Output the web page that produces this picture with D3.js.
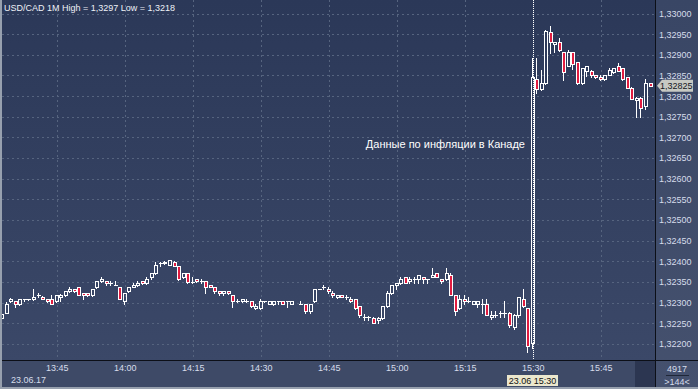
<!DOCTYPE html>
<html lang="ru">
<head>
<meta charset="UTF-8">
<title>USD/CAD 1M</title>
<style>
  html, body { margin: 0; padding: 0; background: #3e4a67; }
  svg { display: block; font-family: "Liberation Sans", Arial, sans-serif; }
</style>
</head>
<body>
<svg id="svg" width="698" height="389"></svg>
<script src="https://d3js.org/d3.v7.min.js"></script>
<script>
// USD/CAD, 1 minute candles, 23.06.17 from 13:33 (14:38 has no candle)
const startTime = new Date(2017, 5, 23, 13, 33)
const open = [
  1.32263, 1.32276, 1.32303, 1.32303, 1.32296, 1.32308, 1.32308, 1.32308, 1.32318, 1.32313,
  1.32308, 1.32308, 1.32303, 1.32313, 1.32318, 1.32328, 1.32333, 1.32337, 1.32323, 1.32323,
  1.32318, 1.32337, 1.32352, 1.32352, 1.32347, 1.32342, 1.32337, 1.32303, 1.32328, 1.32337,
  1.32342, 1.32352, 1.32347, 1.32362, 1.32371, 1.32395, 1.32395, 1.32392, 1.32399, 1.32389,
  1.32362, 1.32371, 1.32351, 1.32357, 1.32352, 1.32352, 1.32342, 1.32337, 1.32328, 1.32323,
  1.32328, 1.32318, 1.32303, 1.32303, 1.32303, 1.32303, 1.32286, 1.32286, 1.32303, 1.32296,
  1.32296, 1.32303, 1.32303, 1.32303, 1.32296, null, 1.32296, 1.32296, 1.32281, 1.32303,
  1.32333, 1.32337, 1.32333, 1.32323, 1.32313, 1.32318, 1.32313, 1.32308, 1.32308, 1.32291,
  1.32266, 1.32266, 1.32262, 1.32257, 1.32262, 1.32291, 1.32323, 1.32342, 1.32347, 1.32362,
  1.32352, 1.32357, 1.32357, 1.32362, 1.32357, 1.32362, 1.32371, 1.32357, 1.32357, 1.32366,
  1.32318, 1.32286, 1.32308, 1.32303, 1.32296, 1.32296, 1.32296, 1.32296, 1.32266, 1.32271,
  1.32276, 1.32276, 1.32276, 1.32242, 1.32271, 1.32308, 1.32286, 1.32203, 1.32841, 1.32817,
  1.32831, 1.32956, 1.32925, 1.32930, 1.32906, 1.32874, 1.32906, 1.32882, 1.32831, 1.32862,
  1.32862, 1.32851, 1.32846, 1.32841, 1.32851, 1.32858, 1.32873, 1.32867, 1.32846, 1.32820,
  1.32791, 1.32796, 1.32776, 1.32831
]
const high = [
  1.32275, 1.32302, 1.32312, 1.32305, 1.32309, 1.32309, 1.32309, 1.32333, 1.32324, 1.32315,
  1.32309, 1.32319, 1.32319, 1.32320, 1.32328, 1.32337, 1.32334, 1.32338, 1.32324, 1.32324,
  1.32333, 1.32352, 1.32362, 1.32353, 1.32352, 1.32352, 1.32338, 1.32323, 1.32338, 1.32347,
  1.32352, 1.32353, 1.32362, 1.32371, 1.32399, 1.32399, 1.32400, 1.32404, 1.32400, 1.32390,
  1.32372, 1.32372, 1.32362, 1.32358, 1.32357, 1.32353, 1.32343, 1.32338, 1.32329, 1.32328,
  1.32329, 1.32319, 1.32308, 1.32309, 1.32308, 1.32304, 1.32296, 1.32308, 1.32304, 1.32303,
  1.32303, 1.32303, 1.32304, 1.32303, 1.32303, null, 1.32303, 1.32297, 1.32296, 1.32333,
  1.32333, 1.32342, 1.32337, 1.32328, 1.32319, 1.32319, 1.32318, 1.32313, 1.32309, 1.32292,
  1.32273, 1.32267, 1.32266, 1.32266, 1.32291, 1.32328, 1.32343, 1.32348, 1.32362, 1.32363,
  1.32362, 1.32362, 1.32367, 1.32363, 1.32358, 1.32384, 1.32372, 1.32358, 1.32384, 1.32372,
  1.32319, 1.32318, 1.32318, 1.32313, 1.32303, 1.32303, 1.32308, 1.32308, 1.32281, 1.32281,
  1.32281, 1.32303, 1.32277, 1.32272, 1.32314, 1.32333, 1.32287, 1.32892, 1.32892, 1.32863,
  1.32959, 1.32970, 1.32931, 1.32940, 1.32907, 1.32912, 1.32907, 1.32883, 1.32868, 1.32873,
  1.32863, 1.32852, 1.32851, 1.32852, 1.32867, 1.32868, 1.32880, 1.32868, 1.32847, 1.32821,
  1.32797, 1.32797, 1.32841, 1.32832
]
const low = [
  1.32260, 1.32274, 1.32301, 1.32290, 1.32295, 1.32303, 1.32307, 1.32306, 1.32313, 1.32308,
  1.32302, 1.32296, 1.32301, 1.32303, 1.32317, 1.32327, 1.32327, 1.32318, 1.32308, 1.32317,
  1.32317, 1.32336, 1.32351, 1.32342, 1.32342, 1.32342, 1.32308, 1.32296, 1.32327, 1.32337,
  1.32341, 1.32346, 1.32346, 1.32357, 1.32370, 1.32389, 1.32394, 1.32391, 1.32389, 1.32356,
  1.32360, 1.32347, 1.32347, 1.32351, 1.32347, 1.32323, 1.32337, 1.32323, 1.32318, 1.32318,
  1.32322, 1.32290, 1.32302, 1.32302, 1.32302, 1.32290, 1.32285, 1.32285, 1.32302, 1.32296,
  1.32295, 1.32296, 1.32296, 1.32290, 1.32296, null, 1.32296, 1.32276, 1.32276, 1.32302,
  1.32332, 1.32333, 1.32323, 1.32313, 1.32312, 1.32313, 1.32308, 1.32302, 1.32285, 1.32266,
  1.32257, 1.32257, 1.32251, 1.32252, 1.32261, 1.32290, 1.32322, 1.32333, 1.32346, 1.32347,
  1.32347, 1.32347, 1.32347, 1.32347, 1.32347, 1.32361, 1.32361, 1.32347, 1.32356, 1.32318,
  1.32271, 1.32285, 1.32296, 1.32302, 1.32296, 1.32290, 1.32276, 1.32271, 1.32261, 1.32266,
  1.32266, 1.32266, 1.32242, 1.32237, 1.32266, 1.32290, 1.32180, 1.32190, 1.32807, 1.32815,
  1.32830, 1.32905, 1.32907, 1.32910, 1.32839, 1.32872, 1.32865, 1.32830, 1.32830, 1.32849,
  1.32847, 1.32845, 1.32840, 1.32840, 1.32850, 1.32857, 1.32861, 1.32840, 1.32820, 1.32792,
  1.32750, 1.32750, 1.32770, 1.32824
]
const close = [
  1.32273, 1.32296, 1.32308, 1.32296, 1.32308, 1.32308, 1.32308, 1.32313, 1.32318, 1.32308,
  1.32303, 1.32296, 1.32319, 1.32319, 1.32328, 1.32333, 1.32328, 1.32318, 1.32318, 1.32318,
  1.32333, 1.32352, 1.32357, 1.32347, 1.32347, 1.32342, 1.32308, 1.32323, 1.32337, 1.32342,
  1.32347, 1.32347, 1.32357, 1.32371, 1.32392, 1.32395, 1.32399, 1.32403, 1.32389, 1.32357,
  1.32371, 1.32350, 1.32351, 1.32352, 1.32352, 1.32337, 1.32337, 1.32328, 1.32323, 1.32328,
  1.32323, 1.32303, 1.32303, 1.32308, 1.32303, 1.32291, 1.32291, 1.32303, 1.32303, 1.32303,
  1.32303, 1.32303, 1.32296, 1.32303, 1.32303, null, 1.32296, 1.32281, 1.32296, 1.32333,
  1.32333, 1.32337, 1.32328, 1.32318, 1.32318, 1.32313, 1.32313, 1.32303, 1.32286, 1.32271,
  1.32266, 1.32266, 1.32252, 1.32262, 1.32291, 1.32323, 1.32342, 1.32347, 1.32357, 1.32347,
  1.32357, 1.32357, 1.32366, 1.32357, 1.32357, 1.32366, 1.32362, 1.32352, 1.32371, 1.32318,
  1.32281, 1.32308, 1.32303, 1.32303, 1.32303, 1.32303, 1.32296, 1.32271, 1.32271, 1.32271,
  1.32276, 1.32276, 1.32247, 1.32271, 1.32313, 1.32291, 1.32195, 1.32846, 1.32817, 1.32831,
  1.32958, 1.32930, 1.32930, 1.32912, 1.32859, 1.32906, 1.32877, 1.32831, 1.32867, 1.32873,
  1.32851, 1.32846, 1.32841, 1.32851, 1.32863, 1.32867, 1.32862, 1.32841, 1.32820, 1.32792,
  1.32796, 1.32771, 1.32831, 1.32825
]
const priceTicks = [1.3220, 1.3225, 1.3230, 1.3235, 1.3240, 1.3245, 1.3250, 1.3255, 1.3260,
  1.3265, 1.3270, 1.3275, 1.3280, 1.3285, 1.3290, 1.3295, 1.3300]
const title = 'USD/CAD 1M High = 1,3297 Low = 1,3218'
const note = 'Данные по инфляции в Канаде'
const eventTime = new Date(2017, 5, 23, 15, 30)
const lastPrice = 1.32825
const dateLabel = '23.06.17'
const cursorLabel = '23.06 15:30'
const volumeLabel = '4917'
const barsLabel = '>144<'

const candles = open.map((o, i) => o == null ? null : {
  t: d3.timeMinute.offset(startTime, i), o, h: high[i], l: low[i], c: close[i]
}).filter(d => d)

// layout
const W = 698, H = 389
const plotRight = 655, plotBottom = 360
const font = '"Liberation Sans", Arial, sans-serif'

const x = d3.scaleTime()
  .domain([startTime, d3.timeMinute.offset(startTime, 143)])
  .range([2.3, 650.5])
const y = d3.scaleLinear()
  .domain([1.3220, 1.3300])
  .range([344, 13.5])

const svg = d3.select('#svg')
const defs = svg.append('defs')
const g1 = defs.append('linearGradient').attr('id', 'plotBg').attr('x1', 0).attr('y1', 0).attr('x2', 0).attr('y2', 1)
g1.append('stop').attr('offset', 0).attr('stop-color', '#2b3858')
g1.append('stop').attr('offset', 1).attr('stop-color', '#3b4868')
const g2 = defs.append('linearGradient').attr('id', 'axisBg').attr('x1', 0).attr('y1', 0).attr('x2', 0).attr('y2', 1)
g2.append('stop').attr('offset', 0).attr('stop-color', '#394665')
g2.append('stop').attr('offset', 1).attr('stop-color', '#45516e')

// backgrounds
svg.append('rect').attr('x', 0).attr('y', 0).attr('width', W).attr('height', H).attr('fill', '#3e4a67')
svg.append('rect').attr('x', plotRight).attr('y', 0).attr('width', W - plotRight).attr('height', H).attr('fill', 'url(#axisBg)')
svg.append('rect').attr('x', 2).attr('y', 0).attr('width', plotRight - 2).attr('height', plotBottom).attr('fill', 'url(#plotBg)')
svg.append('rect').attr('x', 635).attr('y', plotBottom).attr('width', plotRight - 635).attr('height', H - plotBottom).attr('fill', '#2c3651')

// grid
const grid = svg.append('g')
  .attr('stroke', '#56647f')
  .attr('stroke-dasharray', '2,3')
  .attr('shape-rendering', 'crispEdges')
grid.selectAll('.hy').data(priceTicks).join('line')
  .attr('x1', 2).attr('x2', plotRight)
  .attr('y1', d => Math.round(y(d)) + 0.5).attr('y2', d => Math.round(y(d)) + 0.5)
grid.selectAll('.vx').data(x.ticks(d3.timeMinute.every(15))).join('line')
  .attr('x1', d => Math.round(x(d)) + 0.5).attr('x2', d => Math.round(x(d)) + 0.5)
  .attr('y1', 0).attr('y2', plotBottom)

// title and note
svg.append('text').attr('x', 4).attr('y', 11).text(title)
  .attr('fill', '#eef1f7').attr('font-size', 9).attr('font-family', font)
svg.append('text').attr('x', 525).attr('y', 148).text(note)
  .attr('fill', '#ffffff').attr('font-size', 11).attr('font-family', font).attr('text-anchor', 'end')

// candles
const red = '#e11c40'
const bars = svg.append('g')
  .attr('shape-rendering', 'crispEdges')
  .selectAll('g').data(candles).join('g')
  .attr('transform', d => `translate(${Math.round(x(d.t))},0)`)
const bodyTop = d => Math.round(y(Math.max(d.o, d.c)))
const bodyBot = d => Math.round(y(Math.min(d.o, d.c)))
bars.append('line')
  .attr('x1', -0.5).attr('x2', -0.5)
  .attr('y1', d => Math.round(y(d.h))).attr('y2', bodyTop)
  .attr('stroke', '#fff')
bars.append('line')
  .attr('x1', -0.5).attr('x2', -0.5)
  .attr('y1', d => bodyBot(d) + 1).attr('y2', d => Math.round(y(d.l)) + 1)
  .attr('stroke', '#fff')
bars.filter(d => bodyBot(d) > bodyTop(d)).append('rect')
  .attr('x', -1.5).attr('width', 3)
  .attr('y', d => bodyTop(d) + 0.5)
  .attr('height', d => bodyBot(d) - bodyTop(d))
  .attr('fill', d => d.c < d.o ? red : 'none')
  .attr('stroke', '#fff')
bars.filter(d => bodyBot(d) === bodyTop(d)).append('line')
  .attr('x1', -2).attr('x2', 2)
  .attr('y1', d => bodyTop(d) + 0.5).attr('y2', d => bodyTop(d) + 0.5)
  .attr('stroke', '#fff')

// cursor line at the news minute
const cx = Math.round(x(eventTime)) + 0.5
svg.append('line')
  .attr('x1', cx).attr('x2', cx).attr('y1', 0).attr('y2', plotBottom)
  .attr('stroke', '#fff').attr('stroke-dasharray', '1,1').attr('shape-rendering', 'crispEdges')

// frame lines
svg.append('line').attr('x1', plotRight + 0.5).attr('x2', plotRight + 0.5).attr('y1', 0).attr('y2', H)
  .attr('stroke', '#0c0f17').attr('shape-rendering', 'crispEdges')
svg.append('line').attr('x1', 0).attr('x2', W).attr('y1', plotBottom + 0.5).attr('y2', plotBottom + 0.5)
  .attr('stroke', '#0c0f17').attr('shape-rendering', 'crispEdges')
svg.append('rect').attr('x', 0).attr('y', 0).attr('width', 2).attr('height', H).attr('fill', '#97a0ae')
svg.append('rect').attr('x', 0).attr('y', H - 2).attr('width', W).attr('height', 2).attr('fill', '#97a0ae')

// price axis
const fmtPrice = d => d3.format('.5f')(d).replace('.', ',')
svg.append('g')
  .attr('transform', `translate(${plotRight},0)`)
  .call(d3.axisRight(y).tickValues(priceTicks).tickSize(0).tickPadding(4).tickFormat(fmtPrice))
  .call(g => g.select('.domain').remove())
  .attr('font-size', 9).attr('font-family', font)
  .selectAll('text').attr('fill', '#d6ddeb')

// time axis
svg.append('g')
  .attr('transform', `translate(0,${plotBottom})`)
  .call(d3.axisBottom(x).ticks(d3.timeMinute.every(15)).tickSize(0).tickPadding(5).tickFormat(d3.timeFormat('%H:%M')))
  .call(g => g.select('.domain').remove())
  .attr('font-size', 9).attr('font-family', font)
  .selectAll('text').attr('fill', '#d6ddeb')
svg.append('text').attr('x', 11).attr('y', 383).text(dateLabel)
  .attr('fill', '#d6ddeb').attr('font-size', 9).attr('font-family', font)

// last price marker
const py = y(lastPrice)
svg.append('path')
  .attr('d', `M${plotRight + 2},${py} L${plotRight + 7},${py - 6} H693 V${py + 6} H${plotRight + 7} Z`)
  .attr('fill', '#c7c9c3')
svg.append('text').attr('x', 660).attr('y', py + 3.3).text(fmtPrice(lastPrice))
  .attr('fill', '#15181f').attr('font-size', 9).attr('font-family', font)

// cursor date box
svg.append('rect').attr('x', 507).attr('y', 375).attr('width', 51).attr('height', 11).attr('fill', '#ebe7cd')
svg.append('text').attr('x', 532.5).attr('y', 384).text(cursorLabel)
  .attr('fill', '#111').attr('font-size', 9).attr('font-family', font).attr('text-anchor', 'middle')

// corner box
svg.append('text').attr('x', 677).attr('y', 372).text(volumeLabel)
  .attr('fill', '#d6ddeb').attr('font-size', 9).attr('font-family', font).attr('text-anchor', 'middle')
svg.append('line').attr('x1', 666).attr('x2', 689).attr('y1', 375.5).attr('y2', 375.5)
  .attr('stroke', '#1f2738').attr('shape-rendering', 'crispEdges')
svg.append('text').attr('x', 677).attr('y', 385).text(barsLabel)
  .attr('fill', '#d6ddeb').attr('font-size', 9).attr('font-family', font).attr('text-anchor', 'middle')
</script>
</body>
</html>
